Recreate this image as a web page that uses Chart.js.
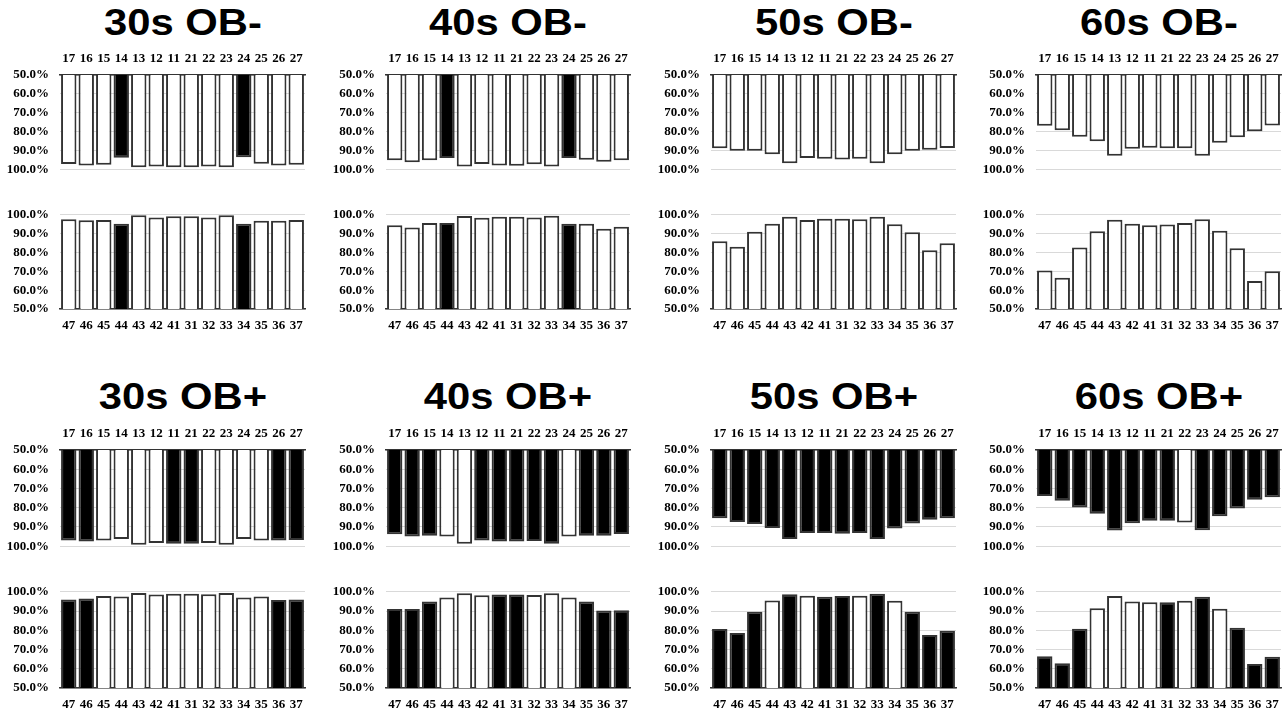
<!DOCTYPE html>
<html>
<head>
<meta charset="utf-8">
<script src="https://cdn.jsdelivr.net/npm/chart.js@4.4.0/dist/chart.umd.min.js"></script>
<style>
  body { margin: 0; background: #fff; width: 1288px; height: 713px; position: relative; overflow: hidden; }
  .title {
    position: absolute;
    font-family: 'Liberation Sans', Arial, sans-serif;
    font-weight: bold;
    font-size: 36px;
    line-height: 1;
    white-space: nowrap;
    color: #000;
    transform: translate(-50%, -50%) scaleX(1.16);
  }
  canvas { position: absolute; }
</style>
</head>
<body>
<script>
// tooth numbers
const upperTeeth = ['17', '16', '15', '14', '13', '12', '11', '21', '22', '23', '24', '25', '26', '27'];
const lowerTeeth = ['47', '46', '45', '44', '43', '42', '41', '31', '32', '33', '34', '35', '36', '37'];
const yTicks = [50, 60, 70, 80, 90, 100];

// values in %, flag 1 = black bar
const upper30Minus = [97.3, 98.1, 97.6, 93.9, 98.9, 98.6, 98.9, 98.9, 98.6, 98.9, 93.6, 97.1, 98.1, 97.7];
const upperMark30Minus = [0, 0, 0, 1, 0, 0, 0, 0, 0, 0, 1, 0, 0, 0];
const lower30Minus = [97.6, 97.1, 97.3, 95.2, 99.7, 98.6, 99.2, 99.2, 98.6, 99.7, 95.2, 96.9, 96.9, 97.3];
const lowerMark30Minus = [0, 0, 0, 1, 0, 0, 0, 0, 0, 0, 1, 0, 0, 0];

const upper40Minus = [95.3, 96.3, 95.3, 94.1, 98.6, 97.3, 98.1, 98.2, 97.4, 98.6, 94.1, 95.0, 96.0, 95.3];
const upperMark40Minus = [0, 0, 0, 1, 0, 0, 0, 0, 0, 0, 1, 0, 0, 0];
const lower40Minus = [94.4, 93.2, 95.7, 95.7, 99.4, 98.4, 98.9, 98.9, 98.6, 99.5, 95.3, 95.2, 92.6, 93.7];
const lowerMark40Minus = [0, 0, 0, 1, 0, 0, 0, 0, 0, 0, 1, 0, 0, 0];

const upper50Minus = [88.9, 90.2, 90.2, 92.0, 96.8, 94.1, 94.5, 94.9, 94.4, 96.8, 92.0, 90.2, 89.7, 88.7];
const upperMark50Minus = [0, 0, 0, 0, 0, 0, 0, 0, 0, 0, 0, 0, 0, 0];
const lower50Minus = [86.0, 83.1, 91.0, 95.2, 98.9, 97.3, 97.9, 97.9, 97.6, 98.9, 95.0, 90.7, 81.2, 84.9];
const lowerMark50Minus = [0, 0, 0, 0, 0, 0, 0, 0, 0, 0, 0, 0, 0, 0];

const upper60Minus = [77.0, 79.3, 82.8, 85.2, 92.9, 89.2, 88.6, 88.9, 88.9, 92.9, 85.9, 83.1, 79.9, 76.8];
const upperMark60Minus = [0, 0, 0, 0, 0, 0, 0, 0, 0, 0, 0, 0, 0, 0];
const lower60Minus = [70.4, 66.6, 82.6, 91.3, 97.4, 95.3, 94.5, 94.9, 95.7, 97.6, 91.6, 82.3, 64.8, 70.1];
const lowerMark60Minus = [0, 0, 0, 0, 0, 0, 0, 0, 0, 0, 0, 0, 0, 0];

const upper30Plus = [97.1, 97.6, 97.1, 96.2, 99.2, 98.3, 98.7, 98.7, 98.4, 99.2, 96.2, 97.0, 97.1, 96.8];
const upperMark30Plus = [1, 1, 0, 0, 0, 0, 1, 1, 0, 0, 0, 0, 1, 1];
const lower30Plus = [96.0, 96.5, 97.8, 97.6, 99.4, 98.6, 99.0, 99.0, 98.7, 99.4, 97.1, 97.6, 95.7, 96.0];
const lowerMark30Plus = [1, 1, 0, 0, 0, 0, 0, 0, 0, 0, 0, 0, 1, 1];

const upper40Plus = [93.8, 94.9, 94.6, 94.9, 98.7, 97.1, 97.6, 97.6, 97.3, 98.7, 94.9, 94.6, 94.6, 93.6];
const upperMark40Plus = [1, 1, 1, 0, 0, 1, 1, 1, 1, 1, 0, 1, 1, 1];
const lower40Plus = [91.1, 91.1, 94.9, 97.0, 99.2, 98.2, 98.6, 98.6, 98.4, 99.2, 97.0, 94.9, 90.3, 90.4];
const lowerMark40Plus = [1, 1, 1, 0, 0, 0, 1, 1, 0, 0, 0, 1, 1, 1];

const upper50Plus = [85.5, 87.4, 88.4, 90.6, 96.2, 93.2, 93.2, 93.5, 93.2, 96.2, 90.8, 88.2, 86.3, 85.5];
const upperMark50Plus = [1, 1, 1, 1, 1, 1, 1, 1, 1, 1, 1, 1, 1, 1];
const lower50Plus = [80.7, 78.6, 89.6, 95.5, 98.7, 97.9, 97.4, 97.8, 97.9, 99.0, 95.4, 89.6, 77.6, 79.7];
const lowerMark50Plus = [1, 1, 1, 0, 1, 0, 1, 1, 0, 1, 0, 1, 1, 1];

const upper60Plus = [73.9, 76.4, 79.9, 83.1, 91.9, 88.1, 86.8, 86.8, 87.7, 91.7, 84.4, 80.4, 75.9, 74.5];
const upperMark60Plus = [1, 1, 1, 1, 1, 1, 1, 1, 0, 1, 1, 1, 1, 1];
const lower60Plus = [66.5, 62.8, 80.8, 91.5, 97.8, 95.0, 94.6, 94.6, 95.4, 97.4, 91.2, 81.3, 62.5, 66.3];
const lowerMark60Plus = [1, 1, 1, 0, 0, 0, 0, 1, 0, 1, 0, 1, 1, 1];

const panels = [
  { title: '30s OB-', up: upper30Minus, upMark: upperMark30Minus, low: lower30Minus, lowMark: lowerMark30Minus },
  { title: '40s OB-', up: upper40Minus, upMark: upperMark40Minus, low: lower40Minus, lowMark: lowerMark40Minus },
  { title: '50s OB-', up: upper50Minus, upMark: upperMark50Minus, low: lower50Minus, lowMark: lowerMark50Minus },
  { title: '60s OB-', up: upper60Minus, upMark: upperMark60Minus, low: lower60Minus, lowMark: lowerMark60Minus },
  { title: '30s OB+', up: upper30Plus, upMark: upperMark30Plus, low: lower30Plus, lowMark: lowerMark30Plus },
  { title: '40s OB+', up: upper40Plus, upMark: upperMark40Plus, low: lower40Plus, lowMark: lowerMark40Plus },
  { title: '50s OB+', up: upper50Plus, upMark: upperMark50Plus, low: lower50Plus, lowMark: lowerMark50Plus },
  { title: '60s OB+', up: upper60Plus, upMark: upperMark60Plus, low: lower60Plus, lowMark: lowerMark60Plus }
];

// layout of the grid of panels (plot area edges in page px)
const cols = [{ l: 60, r: 305 }, { l: 386, r: 630 }, { l: 711, r: 956 }, { l: 1036, r: 1281 }];
const rows = [
  { titleY: 23, up: { t: 75, b: 178 }, low: { t: 206, b: 309 } },
  { titleY: 397, up: { t: 450, b: 555 }, low: { t: 583, b: 688 } }
];

const Y_W = 60, X_H = 24, PAD = 10;
const tickFont = { family: "'Liberation Serif', 'Times New Roman', serif", weight: 'bold', size: 13 };

function drawBars(labels, values, marks, isUpper, l, r, t, b) {
  const c = document.createElement('canvas');
  c.width = Y_W + (r - l) + PAD;
  c.height = X_H + (b - t) + PAD;
  c.style.left = (l - Y_W) + 'px';
  c.style.top = (isUpper ? t - X_H : t - PAD) + 'px';
  document.body.appendChild(c);

  new Chart(c, {
    type: 'bar',
    data: {
      labels: labels,
      datasets: [{
        data: values,
        backgroundColor: marks.map(m => m ? '#000000' : '#ffffff'),
        borderColor: '#333333',
        borderWidth: 2,
        borderSkipped: false,
        barPercentage: 0.88,
        categoryPercentage: 1.0
      }]
    },
    options: {
      responsive: false,
      animation: false,
      devicePixelRatio: 1,
      layout: { padding: isUpper ? { bottom: PAD, right: PAD } : { top: PAD, right: PAD } },
      plugins: { legend: { display: false }, tooltip: { enabled: false } },
      scales: {
        x: {
          position: isUpper ? 'top' : 'bottom',
          grid: { display: false, drawTicks: false },
          border: { display: true, color: '#333333', width: 1.5 },
          ticks: { color: '#000', font: tickFont, padding: 9, maxRotation: 0, autoSkip: false },
          afterFit: s => { s.height = X_H; }
        },
        y: {
          reverse: isUpper,
          min: 50,
          max: 100,
          grid: { color: '#d9d9d9', lineWidth: 1, drawTicks: false },
          border: { display: false },
          ticks: { color: '#000', font: tickFont, padding: 11, callback: v => v.toFixed(1) + '%' },
          afterBuildTicks: s => { s.ticks = yTicks.map(v => ({ value: v })); },
          afterFit: s => { s.width = Y_W; }
        }
      }
    }
  });
}

panels.forEach((p, i) => {
  const col = cols[i % 4];
  const row = rows[Math.floor(i / 4)];

  const title = document.createElement('div');
  title.className = 'title';
  title.textContent = p.title;
  title.style.left = ((col.l + col.r) / 2) + 'px';
  title.style.top = row.titleY + 'px';
  document.body.appendChild(title);

  drawBars(upperTeeth, p.up, p.upMark, true, col.l, col.r, row.up.t, row.up.b);
  drawBars(lowerTeeth, p.low, p.lowMark, false, col.l, col.r, row.low.t, row.low.b);
});
</script>
</body>
</html>
